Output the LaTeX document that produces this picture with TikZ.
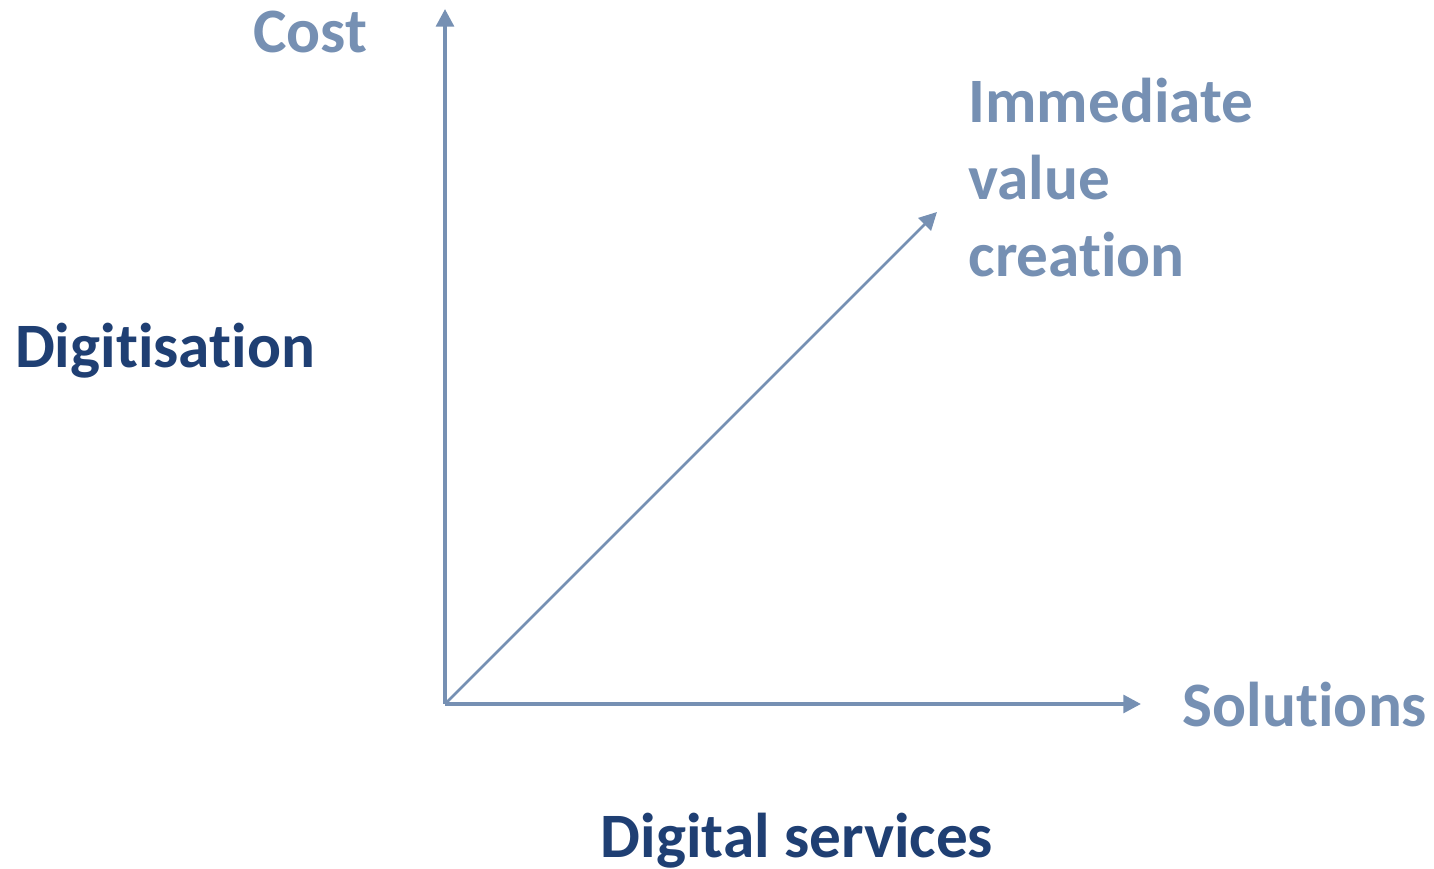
\documentclass[tikz,border=0pt]{standalone}
\usepackage{fontspec}
\setmainfont{Carlito}[Ligatures=NoCommon]
\usetikzlibrary{arrows.meta}
\definecolor{axisblue}{HTML}{7690B3}
\definecolor{darkblue}{HTML}{1F3F73}
\tikzset{
    lbl/.style={font=\fontsize{18}{21.9}\selectfont\bfseries, text=axisblue},
    ttl/.style={font=\fontsize{18}{21.9}\selectfont\bfseries, text=darkblue},
    axis/.style={axisblue, -{Triangle[length=5pt, width=5pt]}}
}
\begin{document}
\begin{tikzpicture}[line width=1.1pt]
    \useasboundingbox (0, 0) rectangle (14.34, 8.69);

    \coordinate (O) at (4.45, 1.65);
    \coordinate (top) at (4.45, 8.60);
    \coordinate (right) at (11.41, 1.65);
    \coordinate (diag) at (9.37, 6.57);

    \node [lbl] (cost) at (3.10, 8.37) {Cost};
    \node [lbl] (solutions) at (13.05, 1.64) {Solutions};
    \node [lbl, anchor=west, align=left] (value) at (9.55, 6.91)
        {Immediate\\value\\creation};
    \node [ttl] (digitisation) at (1.65, 5.18) {Digitisation};
    \node [ttl, inner sep=0pt] (services) at (7.97, 0.28) {Digital services};

    \draw [axis] (O) -- (top);
    \draw [axis] (O) -- (right);
    \draw [axis, line width=.8pt] (O) -- (diag);
\end{tikzpicture}
\end{document}
